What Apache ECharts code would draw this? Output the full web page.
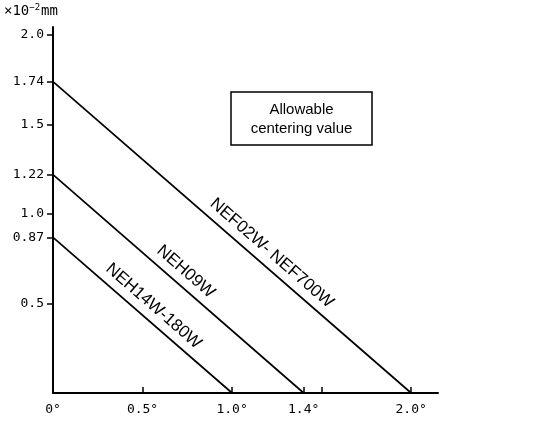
<!DOCTYPE html>
<html>
<head>
<meta charset="utf-8">
<script src="https://cdn.jsdelivr.net/npm/echarts@6/dist/echarts.min.js"></script>
<style>
  html, body { margin: 0; padding: 0; background: #fff; }
  #chart { width: 550px; height: 425px; }
</style>
</head>
<body>
<div id="chart"></div>
<script>
// limits: y intercept (x10^-2 mm) and x intercept (deg) for each model group
var seriesNames = ['NEH14W-180W', 'NEH09W', 'NEF02W- NEF700W'];
var yIntercepts = [0.87, 1.22, 1.74];
var xIntercepts = [1.0, 1.4, 2.0];
var labelAt = [0.51, 0.69, 1.17];   // x value where each line's name sits

var xTickVals = [0, 0.5, 1.0, 1.4, 2.0];
var xTickLabels = ['0°', '0.5°', '1.0°', '1.4°', '2.0°'];
var xTickMarks = [0.5, 1.0, 1.4, 1.5, 2.0];
var yTickVals = [0.5, 0.87, 1.0, 1.22, 1.5, 1.74, 2.0];
var yTickLabels = ['0.5', '0.87', '1.0', '1.22', '1.5', '1.74', '2.0'];

var mono = "'DejaVu Sans Mono', monospace";
var sans = "'Liberation Sans', Arial, sans-serif";

var chart = echarts.init(document.getElementById('chart'));

var series = [];
for (var i = 0; i < seriesNames.length; i++) {
    series.push({
        name: seriesNames[i],
        type: 'line',
        data: [[0, yIntercepts[i]], [xIntercepts[i], 0]],
        symbol: 'none',
        lineStyle: { color: '#000', width: 1.7 },
        animation: false
    });
}

var option = {
    animation: false,
    grid: { left: 53, right: 112, top: 27, bottom: 32 },
    xAxis: {
        type: 'value', min: 0, max: 2.15,
        splitLine: { show: false },
        axisLine: { lineStyle: { color: '#000', width: 2 } },
        axisTick: { inside: true, length: 6, customValues: xTickMarks, lineStyle: { color: '#000', width: 1.5 } },
        axisLabel: {
            customValues: xTickVals, color: '#000', fontFamily: mono, fontSize: 13, margin: 10,
            formatter: function (v) {
                var k = xTickVals.indexOf(v);
                return k >= 0 ? xTickLabels[k] : '';
            }
        }
    },
    yAxis: {
        type: 'value', min: 0, max: 2.045,
        splitLine: { show: false },
        axisLine: { lineStyle: { color: '#000', width: 2 } },
        axisTick: { length: 6, customValues: yTickVals, lineStyle: { color: '#000', width: 1.5 } },
        axisLabel: {
            customValues: yTickVals, color: '#000', fontFamily: mono, fontSize: 13, margin: 9,
            formatter: function (v) {
                var k = yTickVals.indexOf(v);
                return k >= 0 ? yTickLabels[k] : '';
            }
        }
    },
    series: series
};
chart.setOption(option);

// unit, note box and rotated line names
var graphics = [
    {
        type: 'text', left: 4, top: 3,
        style: {
            text: '{a|×10}{b|−2}{a|mm}',
            rich: {
                a: { fontFamily: mono, fontSize: 14, fill: '#000' },
                b: { fontFamily: mono, fontSize: 9, fill: '#000', verticalAlign: 'top', padding: [0, 1, 7, 0] }
            }
        }
    },
    {
        type: 'rect', shape: { x: 231, y: 92, width: 141, height: 53 },
        style: { fill: '#fff', stroke: '#000', lineWidth: 1.5 }
    },
    {
        type: 'text', x: 301.5, y: 119,
        style: {
            text: 'Allowable\ncentering value', fontFamily: sans, fontSize: 15, lineHeight: 19,
            fill: '#000', align: 'center', verticalAlign: 'middle'
        }
    }
];
for (var j = 0; j < seriesNames.length; j++) {
    var p0 = chart.convertToPixel({ gridIndex: 0 }, [0, yIntercepts[j]]);
    var p1 = chart.convertToPixel({ gridIndex: 0 }, [xIntercepts[j], 0]);
    var dx = p1[0] - p0[0], dy = p1[1] - p0[1];
    var len = Math.sqrt(dx * dx + dy * dy);
    var t = labelAt[j] / xIntercepts[j];
    var cx = p0[0] + dx * t, cy = p0[1] + dy * t;
    var nx = dy / len, ny = -dx / len;   // normal pointing up-right
    graphics.push({
        type: 'text', x: cx + nx * 14, y: cy + ny * 14,
        rotation: -Math.atan2(dy, dx),
        style: {
            text: seriesNames[j], fontFamily: sans, fontSize: 17, fill: '#000',
            align: 'center', verticalAlign: 'middle'
        }
    });
}
chart.setOption({ graphic: graphics });
</script>
</body>
</html>
